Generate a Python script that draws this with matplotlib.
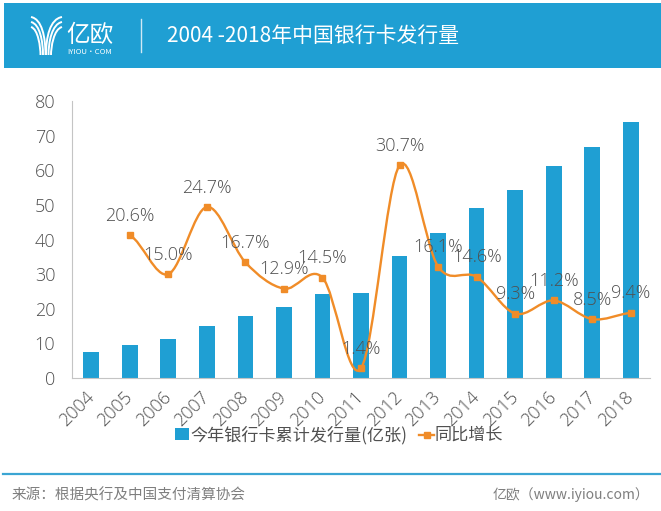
import matplotlib
matplotlib.use("Agg")
import numpy as np
import matplotlib.pyplot as plt
from matplotlib.patches import Rectangle, PathPatch
from matplotlib.path import Path

plt.rcParams['font.family'] = ['Noto Sans CJK SC', 'DejaVu Sans']

years = ['2004', '2005', '2006', '2007', '2008', '2009', '2010', '2011',
         '2012', '2013', '2014', '2015', '2016', '2017', '2018']
cards = [7.5, 9.5, 11.2, 15, 18, 20.5, 24.2, 24.5, 35.3, 42, 49.2, 54.3, 61.2, 66.8, 74]
growth = [20.6, 15.0, 24.7, 16.7, 12.9, 14.5, 1.4, 30.7, 16.1, 14.6, 9.3, 11.2, 8.5, 9.4]
growth_labels = ['20.6%', '15.0%', '24.7%', '16.7%', '12.9%', '14.5%', '1.4%',
                 '30.7%', '16.1%', '14.6%', '9.3%', '11.2%', '8.5%', '9.4%']

BLUE = '#1f9fd3'
ORANGE = '#f08c28'
GREY = '#505050'
LATIN = ['Open Sans', 'DejaVu Sans']
W, H = 661, 511


def fx(px):
    return px / W


def fy(px):
    return 1 - px / H


fig = plt.figure(figsize=(W / 100, H / 100), dpi=100)

# header and footer
fig.add_artist(Rectangle((fx(4), fy(68)), fx(657), 65 / H, transform=fig.transFigure,
                         color=BLUE, lw=0))
fig.add_artist(plt.Line2D([fx(141), fx(141)], [fy(19), fy(52)], color='#cfe9f5', lw=1))
fig.add_artist(plt.Line2D([fx(3), fx(661)], [fy(474), fy(474)], color='#3ba5d3', lw=1.6))

# logo
for x0, xe, ye in [(46, 62, 17), (48.5, 62, 22), (51, 62, 27),
                   (45.5, 31, 17), (43, 31, 22), (40.5, 31, 27)]:
    verts = [(fx(x0), fy(55)), (fx(x0), fy(ye + 20)), (fx(x0 + (xe - x0) * 0.25), fy(ye + 2)),
             (fx(xe), fy(ye))]
    codes = [Path.MOVETO, Path.CURVE4, Path.CURVE4, Path.CURVE4]
    fig.add_artist(PathPatch(Path(verts, codes), fc='none', ec='white', lw=1.4,
                             transform=fig.transFigure))
fig.text(fx(66), fy(42), '亿欧', color='white', fontsize=17, va='baseline', ha='left',
         fontweight='light')
fig.text(fx(67), fy(51.5), 'IYIOU·COM', color='white', fontsize=5.6, va='center', ha='left')
fig.text(fx(167), fy(35.5), '2004 -2018年中国银行卡发行量', color='white', fontsize=15,
         va='center', ha='left')

# chart
ax = fig.add_axes([fx(72), fy(378), fx(578), 277 / H])
x = np.arange(len(years))
ax.bar(x, cards, width=0.41, color=BLUE, label='今年银行卡累计发行量(亿张)')
ax.set_xlim(-0.5, 14.5)
ax.set_ylim(0, 80)
ax.set_yticks(range(0, 81, 10))
ax.set_xticks(x)
ax.set_xticklabels(years, rotation=45, ha='right', va='center', rotation_mode='anchor')
ax.tick_params(axis='both', length=0, labelsize=13, labelcolor=GREY)
ax.tick_params(axis='y', pad=12)
ax.tick_params(axis='x', pad=12)
for lab in ax.get_xticklabels() + ax.get_yticklabels():
    lab.set_family(LATIN)
    lab.set_fontweight('light')
for side in ['top', 'right']:
    ax.spines[side].set_visible(False)
ax.spines['left'].set_color('#c4c4c4')
ax.spines['bottom'].set_color('#c4c4c4')

# growth line on a hidden second axis, smooth curve through the points
ax2 = ax.twinx()
ax2.set_ylim(0, 40)
ax2.axis('off')
gx = x[1:].astype(float)
gy = np.array(growth)
verts = [(gx[0], gy[0])]
codes = [Path.MOVETO]
for i in range(len(gx) - 1):
    p0 = gy[max(i - 1, 0)]
    p3 = gy[min(i + 2, len(gy) - 1)]
    verts += [(gx[i] + 1 / 3, gy[i] + (gy[i + 1] - p0) / 6),
              (gx[i + 1] - 1 / 3, gy[i + 1] - (p3 - gy[i]) / 6),
              (gx[i + 1], gy[i + 1])]
    codes += [Path.CURVE4] * 3
ax2.add_patch(PathPatch(Path(verts, codes), fc='none', ec=ORANGE, lw=1.7))
ax2.plot(gx, gy, ls='none', marker='s', ms=5, color=ORANGE)
for px, py, lab in zip(gx, gy, growth_labels):
    ax2.annotate(lab, (px, py), xytext=(0, 14), textcoords='offset points',
                 ha='center', va='center', fontsize=13, color=GREY,
                 family=LATIN, fontweight='light')

# legend
fig.add_artist(Rectangle((fx(175), fy(440)), 14 / W, 12 / H, transform=fig.transFigure,
                         color=BLUE, lw=0))
fig.text(fx(190), fy(435), '今年银行卡累计发行量(亿张)', fontsize=12.3, color=GREY,
         va='center', ha='left', fontweight='light')
fig.add_artist(plt.Line2D([fx(419), fx(434)], [fy(434.5), fy(434.5)], color=ORANGE, lw=1.7))
fig.add_artist(plt.Line2D([fx(426.5)], [fy(434.5)], color=ORANGE, marker='s', ms=4))
fig.text(fx(435), fy(435), '同比增长', fontsize=12.3, color=GREY, va='center', ha='left',
         fontweight='light')

# footer text
fig.text(fx(12), fy(495), '来源：根据央行及中国支付清算协会', fontsize=10.5, color='#7f7f7f',
         va='center', ha='left')
fig.text(fx(493), fy(495), '亿欧（www.iyiou.com）', fontsize=10, color='#7f7f7f',
         va='center', ha='left')

fig.savefig('out.png', dpi=100)
